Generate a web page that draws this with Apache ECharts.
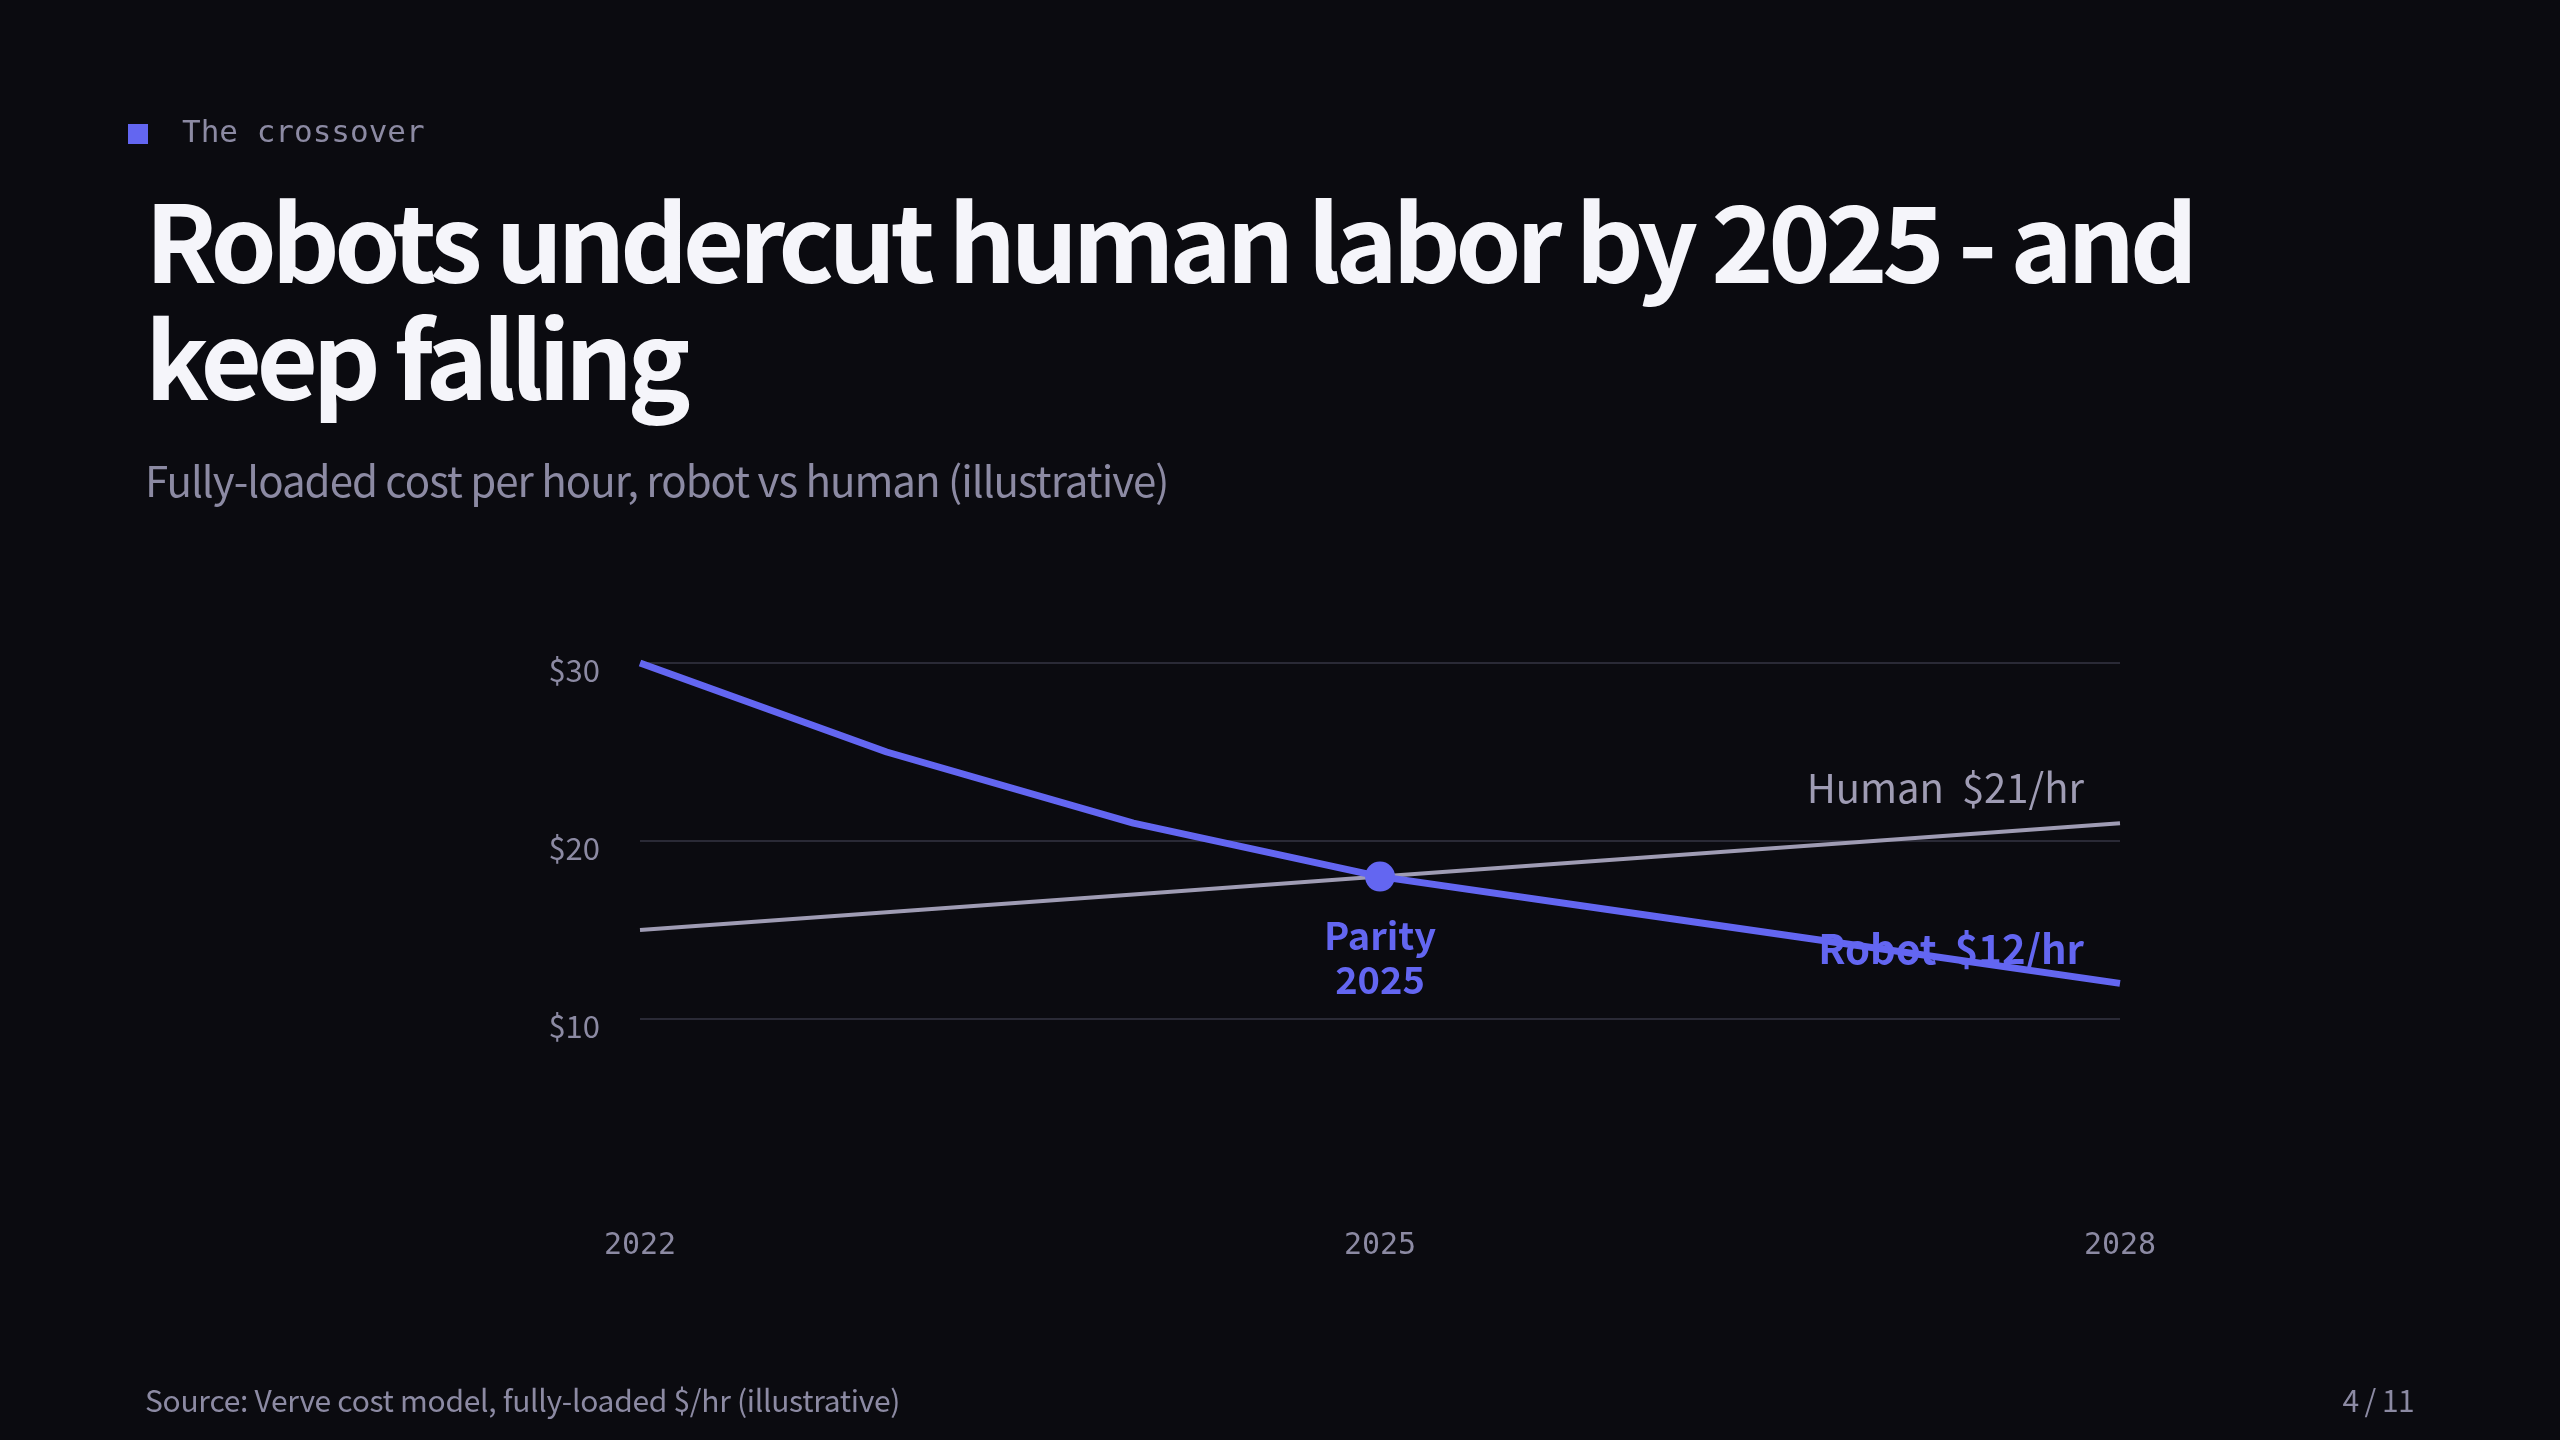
<!DOCTYPE html>
<html>
<head>
<meta charset="utf-8">
<title>The crossover</title>
<script src="https://cdn.jsdelivr.net/npm/echarts@6/dist/echarts.min.js"></script>
<style>
  html, body { margin: 0; padding: 0; background: #0b0b10; }
  .slide { position: relative; width: 2560px; height: 1440px; overflow: hidden; }
  #chart { position: absolute; left: 0; top: 0; width: 2560px; height: 1440px; }
  .txt { position: absolute; margin: 0; white-space: pre; font-family: 'Noto Sans CJK SC', 'Noto Sans', sans-serif; color: #8c8aa3; }
  .eyebrow { left: 128px; top: 111px; font-family: 'DejaVu Sans Mono', monospace; font-size: 31px; line-height: 40px; }
  .eyebrow i { display: inline-block; width: 20px; height: 20px; background: #6366f1; margin-right: 34px; vertical-align: -2px; }
  .headline { left: 145px; top: 179px; font-size: 106px; line-height: 117px; font-weight: 700; color: #f5f5fa; letter-spacing: -5.5px; }
  .sub { left: 145px; top: 454px; font-size: 42px; line-height: 50px; letter-spacing: -1px; }
  .source { left: 145px; top: 1381px; font-size: 30px; line-height: 36px; letter-spacing: -0.3px; }
  .pager { right: 146px; top: 1381px; font-size: 30px; line-height: 36px; letter-spacing: -0.6px; }
</style>
</head>
<body>
<div class="slide">
  <div id="chart"></div>
  <div class="txt eyebrow"><i></i>The crossover</div>
  <h1 class="txt headline">Robots undercut human labor by 2025 - and
keep falling</h1>
  <div class="txt sub">Fully-loaded cost per hour, robot vs human (illustrative)</div>
  <div class="txt source">Source: Verve cost model, fully-loaded $/hr (illustrative)</div>
  <div class="txt pager">4 / 11</div>
</div>
<script>
const years = ["2022", "2023", "2024", "2025", "2026", "2027", "2028"];
const robotCost = [30, 25, 21, 18, 16, 14, 12];
const humanCost = [15, 16, 17, 18, 19, 20, 21];
const yTicks = [10, 20, 30];
const parity = { year: "2025", cost: 18 };

const COLORS = {
  bg: "#0b0b10",
  robot: "#6366f1",
  human: "#9f9cb4",
  muted: "#8c8aa3",
  grid: "#2a2a36",
};
const SANS = "'Noto Sans CJK SC', 'Noto Sans', sans-serif";
const MONO = "'DejaVu Sans Mono', monospace";

const chart = echarts.init(document.getElementById("chart"), null, {
  width: 2560,
  height: 1440,
});

const last = years.length - 1;

// label sitting just above the last point of a line, right-aligned
function endTag(text, color, weight) {
  return {
    show: true,
    position: "inside",
    align: "right",
    verticalAlign: "bottom",
    offset: [-36, -15],
    formatter: text,
    fontFamily: SANS,
    fontSize: 40,
    fontWeight: weight,
    color: color,
  };
}

const option = {
  backgroundColor: COLORS.bg,
  animation: false,
  grid: {
    left: 640,
    right: 440,
    top: 663,
    bottom: 421,
    containLabel: false,
  },
  xAxis: {
    type: "category",
    data: years,
    boundaryGap: false,
    axisLine: { show: false },
    axisTick: { show: false },
    splitLine: { show: false },
    axisLabel: {
      interval: 2,
      margin: 212,
      fontFamily: MONO,
      fontSize: 30,
      color: COLORS.muted,
    },
  },
  yAxis: {
    type: "value",
    min: yTicks[0],
    max: yTicks[yTicks.length - 1],
    interval: 10,
    axisLine: { show: false },
    axisTick: { show: false },
    splitLine: { show: true, lineStyle: { color: COLORS.grid, width: 2 } },
    axisLabel: {
      margin: 40,
      fontFamily: SANS,
      fontSize: 31,
      color: COLORS.muted,
      verticalAlign: "top",
      lineHeight: 14,
      formatter: (v) => "$" + v,
    },
  },
  series: [
    {
      name: "Human",
      type: "line",
      data: humanCost,
      showSymbol: false,
      lineStyle: { color: COLORS.human, width: 4 },
      itemStyle: { color: COLORS.human },
      z: 2,
      markPoint: {
        silent: true,
        symbol: "circle",
        symbolSize: 0,
        data: [
          {
            coord: [years[last], humanCost[last]],
            label: endTag("Human  $" + humanCost[last] + "/hr", COLORS.human, 400),
          },
        ],
      },
    },
    {
      name: "Robot",
      type: "line",
      data: robotCost,
      showSymbol: false,
      lineStyle: { color: COLORS.robot, width: 7 },
      itemStyle: { color: COLORS.robot },
      z: 3,
      markPoint: {
        silent: true,
        data: [
          {
            coord: [parity.year, parity.cost],
            symbol: "circle",
            symbolSize: 30,
            itemStyle: { color: COLORS.robot },
            label: {
              show: true,
              position: "bottom",
              distance: 22,
              formatter: "Parity\n" + parity.year,
              fontFamily: SANS,
              fontSize: 38,
              fontWeight: 700,
              lineHeight: 44,
              color: COLORS.robot,
            },
          },
          {
            coord: [years[last], robotCost[last]],
            symbol: "circle",
            symbolSize: 0,
            label: endTag("Robot  $" + robotCost[last] + "/hr", COLORS.robot, 700),
          },
        ],
      },
    },
  ],
};

chart.setOption(option);
</script>
</body>
</html>
